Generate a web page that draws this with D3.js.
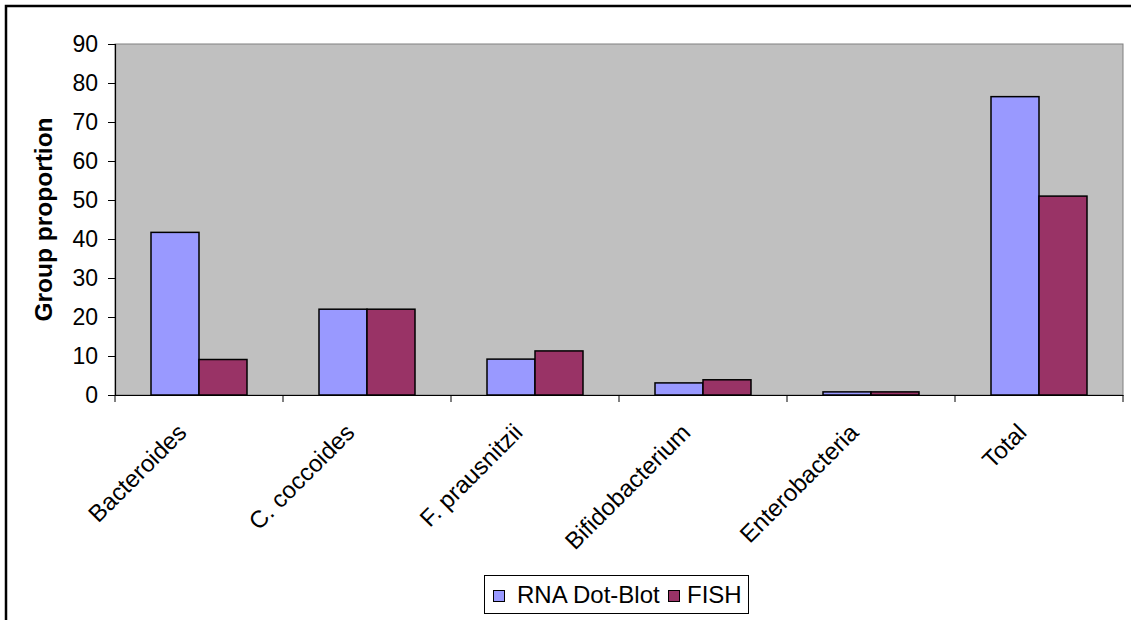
<!DOCTYPE html>
<html>
<head>
<meta charset="utf-8">
<script src="https://cdn.jsdelivr.net/npm/d3@7"></script>
<style>
  html, body { margin: 0; padding: 0; background: #fff; }
  svg { display: block; font-family: "Liberation Sans", Arial, sans-serif; }
</style>
</head>
<body>
<svg id="chart" width="1131" height="620"></svg>
<script>
const categories = ["Bacteroides", "C. coccoides", "F. prausnitzii", "Bifidobacterium", "Enterobacteria", "Total"];
const seriesNames = ["RNA Dot-Blot", "FISH"];
const rnaDotBlot = [41.7, 22.0, 9.2, 3.1, 0.8, 76.5];
const fish = [9.1, 22.0, 11.3, 3.9, 0.8, 51.0];
const yTicks = [0, 10, 20, 30, 40, 50, 60, 70, 80, 90];
const colors = ["#9999FF", "#993366"];

const seriesValues = [rnaDotBlot, fish];
const svg = d3.select("#chart");

// outer frame
svg.append("rect").attr("x", 6).attr("y", 6).attr("width", 1160).attr("height", 700)
  .attr("fill", "none").attr("stroke", "#000").attr("stroke-width", 2.5);

const plot = { left: 115, top: 44, right: 1123, bottom: 395 };

const y = d3.scaleLinear().domain([0, 90]).range([plot.bottom, plot.top]);
const x0 = d3.scaleBand().domain(categories).range([plot.left, plot.right]).padding(0);
const bw = x0.bandwidth();
const x1 = d3.scaleBand().domain(seriesNames).range([bw * 0.2143, bw * 0.7857]).padding(0);

// plot background
svg.append("rect")
  .attr("x", plot.left).attr("y", plot.top)
  .attr("width", plot.right - plot.left).attr("height", plot.bottom - plot.top)
  .attr("fill", "#C0C0C0").attr("stroke", "#808080").attr("stroke-width", 1);

// bars
const groups = svg.append("g").selectAll("g").data(categories).join("g")
  .attr("transform", d => `translate(${x0(d)},0)`);
groups.selectAll("rect")
  .data((d, i) => seriesNames.map((s, j) => ({ s, v: seriesValues[j][i], j })))
  .join("rect")
  .attr("x", d => x1(d.s))
  .attr("y", d => y(d.v))
  .attr("width", x1.bandwidth())
  .attr("height", d => y(0) - y(d.v))
  .attr("fill", d => colors[d.j])
  .attr("stroke", "#000").attr("stroke-width", 1.5);

// y axis
const yAxis = d3.axisLeft(y).tickValues(yTicks).tickSize(7).tickPadding(10).tickFormat(d3.format("d"));
const gy = svg.append("g").attr("transform", `translate(${plot.left},0)`).call(yAxis);
gy.select(".domain").attr("stroke", "#000").attr("stroke-width", 1.2);
gy.selectAll(".tick line").attr("stroke", "#000");
gy.selectAll(".tick text").attr("font-size", 23).attr("fill", "#000")
  .attr("font-family", "Liberation Sans, Arial, sans-serif");

// x axis line and ticks at band boundaries
const xAxis = d3.axisBottom(x0).tickSize(0).tickFormat("");
const gx = svg.append("g").attr("transform", `translate(0,${plot.bottom})`).call(xAxis);
gx.select(".domain").attr("stroke", "#000").attr("stroke-width", 1.2);
const bounds = categories.map(c => x0(c)).concat([plot.right]);
gx.selectAll("line.bound").data(bounds).join("line").attr("class", "bound")
  .attr("x1", d => d).attr("x2", d => d).attr("y1", 0).attr("y2", 7)
  .attr("stroke", "#000").attr("stroke-width", 1);

// category labels
svg.append("g").selectAll("text").data(categories).join("text")
  .attr("transform", d => `translate(${x0(d) + bw / 2 - 11},${434}) rotate(-45)`)
  .attr("text-anchor", "end")
  .attr("font-size", 24)
  .attr("fill", "#000")
  .text(d => d);

// y title
svg.append("text")
  .attr("transform", `translate(52,${(plot.top + plot.bottom) / 2}) rotate(-90)`)
  .attr("text-anchor", "middle")
  .attr("font-size", 24.5).attr("font-weight", "bold").attr("fill", "#000")
  .text("Group proportion");

// legend
const lg = svg.append("g");
lg.append("rect").attr("x", 484.5).attr("y", 575.5).attr("width", 264).attr("height", 38)
  .attr("fill", "#fff").attr("stroke", "#000").attr("stroke-width", 1);
const legendX = [493, 668];
const textX = [517, 687];
seriesNames.forEach((s, i) => {
  lg.append("rect").attr("x", legendX[i] + 0.5).attr("y", 590.5).attr("width", 11).attr("height", 11)
    .attr("fill", colors[i]).attr("stroke", "#000").attr("stroke-width", 1);
  lg.append("text").attr("x", textX[i]).attr("y", 603)
    .attr("font-size", 24).attr("fill", "#000").text(s);
});
</script>
</body>
</html>
